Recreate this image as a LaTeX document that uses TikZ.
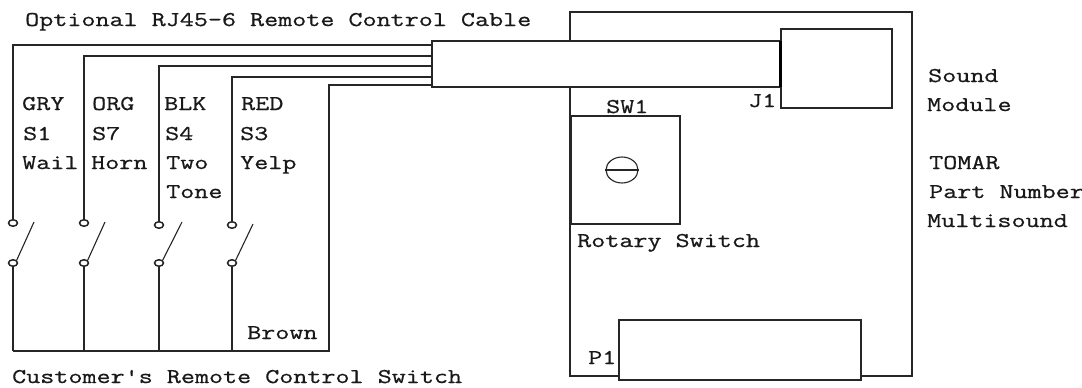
\documentclass[tikz,border=0pt]{standalone}
\usepackage{fontspec}
\setmonofont[FakeStretch=1.3,FakeBold=0.7]{Latin Modern Mono}
\tikzset{
  px/.style={x=1pt,y=-1pt},
  wire/.style={draw=black!85,line width=1.5pt},
  boxn/.style={wire,fill=white,rectangle,inner sep=0pt,outer sep=0pt,anchor=north west},
  contact/.style={wire,fill=white,ellipse,inner sep=0pt,minimum width=9pt,minimum height=6.5pt},
  lab/.style={anchor=base west,inner sep=0pt,text=black!90,font=\ttfamily\fontsize{21}{21}\selectfont},
}
\usetikzlibrary{shapes.geometric}
\begin{document}
\begin{tikzpicture}[px]
\useasboundingbox[fill=white] (0,0) rectangle (1082,388);
% board and parts
\node[boxn,minimum width=342pt,minimum height=364pt] (board) at (570,12) {};
\node[boxn,minimum width=111pt,minimum height=79pt] (module) at (781,29) {};
\node[boxn,minimum width=349pt,minimum height=46pt] (cable) at (432,41) {};
\node[boxn,minimum width=109pt,minimum height=108pt] (sw) at (571,116) {};
\node[boxn,minimum width=242pt,minimum height=60pt] (p1) at (619,320) {};
\node[wire,ellipse,inner sep=0pt,minimum width=32pt,minimum height=26pt,line width=1.1pt] (knob) at (622,170) {};
\draw[wire,line width=1.1pt] (knob.west) -- (knob.east);
\coordinate (jt) at (780,41); \coordinate (jb) at (780,87);
\draw[wire,line width=3pt,black] (jt) -- (jb);
% contacts
\foreach \n/\x/\y in {1/13/223,2/84/223,3/159/225,4/232/225}{
  \node[contact] (t\n) at (\x,\y) {};
  \node[contact] (b\n) at (\x,263) {};
  \coordinate (bus\n) at (\x,351);
}
\coordinate (bus5) at (329,351);
\coordinate (c1) at (432,45);
\coordinate (c2) at (432,56);
\coordinate (c3) at (432,66);
\coordinate (c4) at (432,77);
\coordinate (c5) at (432,85);
\coordinate (a1) at (34,222);
\coordinate (a2) at (105,222);
\coordinate (a3) at (182,222);
\coordinate (a4) at (253,224);
\foreach \n in {1,2,3,4}{
  \draw[wire] (c\n) -| (t\n.north);
  \draw[wire] (b\n.south) -- (bus\n);
  \draw[wire,line width=1.1pt] (b\n.north east) -- (a\n);
}
\draw[wire] (c5) -| (bus5) -- (bus1);
% labels
\node[lab] (cabletext) at (25,26) {Optional RJ45-6 Remote Control Cable};
\node[lab] (l1a) at (22,110) {GRY};
\node[lab] (l1b) at (23,140) {S1};
\node[lab] (l1c) at (22,169) {Wail};
\node[lab] (l2a) at (92,110) {ORG};
\node[lab] (l2b) at (92,140) {S7};
\node[lab] (l2c) at (91,169) {Horn};
\node[lab] (l3a) at (164,110) {BLK};
\node[lab] (l3b) at (165,140) {S4};
\node[lab] (l3c) at (166,169) {Two};
\node[lab] (l3d) at (166,198) {Tone};
\node[lab] (l4a) at (241,110) {RED};
\node[lab] (l4b) at (240,140) {S3};
\node[lab] (l4c) at (240,169) {Yelp};
\node[lab] (brown) at (247,339) {Brown};
\node[lab] (cust) at (12,383) {Customer's Remote Control Switch};
\node[lab] (swl) at (606,113) {SW1};
\node[lab] (jl) at (748,107) {J1};
\node[lab] (rot) at (577,247) {Rotary Switch};
\node[lab] (pl) at (588,364) {P1};
\node[lab] (r1) at (928,82) {Sound};
\node[lab] (r2) at (927,111) {Module};
\node[lab] (r3) at (929,169) {TOMAR};
\node[lab] (r4) at (929,198) {Part Number};
\node[lab] (r5) at (927,227) {Multisound};
\end{tikzpicture}
\end{document}
